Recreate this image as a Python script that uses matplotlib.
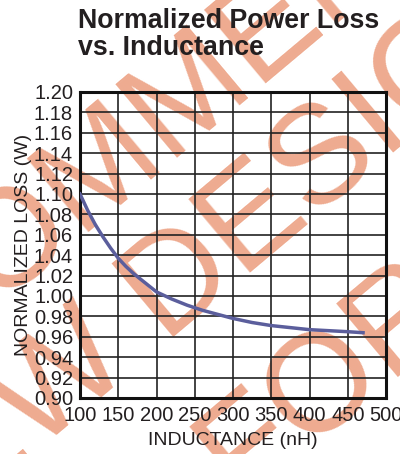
import numpy as np
import matplotlib
matplotlib.use('Agg')
import matplotlib.pyplot as plt

# curve
inductance = [100, 110, 120, 130, 140, 150, 160, 170, 180, 190, 200, 220, 240,
              260, 280, 300, 325, 350, 375, 400, 425, 450, 470]
loss = [1.100, 1.084, 1.070, 1.058, 1.047, 1.037, 1.029, 1.022, 1.016, 1.010,
        1.004, 0.997, 0.991, 0.986, 0.982, 0.978, 0.974, 0.971, 0.969, 0.967,
        0.966, 0.965, 0.964]

x_ticks = [100, 150, 200, 250, 300, 350, 400, 450, 500]
y_ticks = np.round(np.arange(0.90, 1.2001, 0.02), 2)

# watermark lines (text, center x px, center y px)
watermark = [("RECOMMENDED", 176, 102),
             ("NEW DESIGNS", 243, 232),
             ("FOR", 329, 378)]

plt.rcParams['font.family'] = ['Liberation Sans', 'DejaVu Sans']

W, H = 400, 454
fig = plt.figure(figsize=(W / 100, H / 100), dpi=100)

for txt, cx, cy in watermark:
    fig.text(cx / W, 1 - cy / H, txt, fontsize=100, color='#EEAB90',
             rotation=40, rotation_mode='anchor', ha='center', va='center',
             zorder=0)

ax = fig.add_axes([80 / W, 1 - 398 / H, 306 / W, 306 / H])
ax.set_facecolor('none')
ax.set_zorder(2)

ax.plot(inductance, loss, color='#5B5E9C', lw=2.5, zorder=3)

ax.set_xlim(100, 500)
ax.set_ylim(0.90, 1.20)
ax.set_xticks(x_ticks)
ax.set_yticks(y_ticks)
ax.set_xticklabels([str(v) for v in x_ticks])
ax.set_yticklabels(['%.2f' % v for v in y_ticks])
ax.grid(True, color='#222222', lw=1.2)
ax.tick_params(length=0, labelsize=14.5, colors='#231f20', pad=5)
ax.tick_params(axis='x', pad=6)
for s in ax.spines.values():
    s.set_linewidth(2.2)
    s.set_color('#111111')

ax.set_xlabel('INDUCTANCE (nH)', fontsize=14, color='#231f20', labelpad=5)
ax.set_ylabel('NORMALIZED LOSS (W)', fontsize=14, color='#231f20', labelpad=1)

fig.text(78 / W, 1 - 8 / H, 'Normalized Power Loss\nvs. Inductance',
         fontsize=19.3, fontweight='bold', color='#231f20', ha='left', va='top',
         linespacing=1.06, zorder=3)

fig.savefig('out.png', dpi=100)
